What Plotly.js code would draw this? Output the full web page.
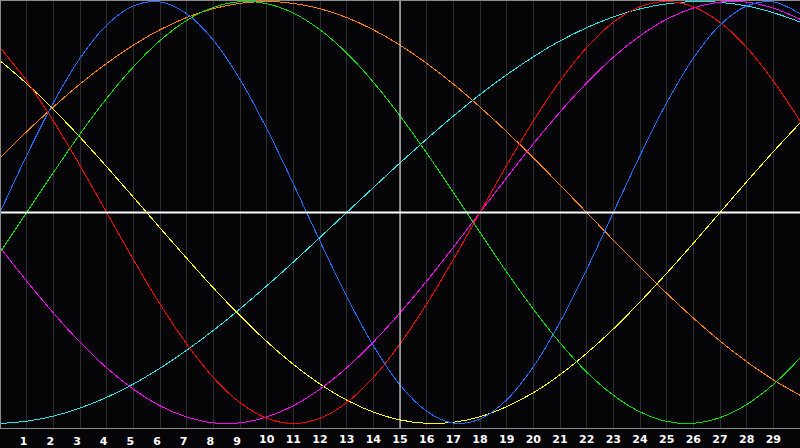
<!DOCTYPE html>
<html>
<head>
<meta charset="utf-8">
<script src="https://cdn.plot.ly/plotly-3.0.1.min.js"></script>
<style>
html,body{margin:0;padding:0;background:#050508;}
#chart{width:800px;height:448px;}
.js-line{shape-rendering:crispEdges;}
</style>
</head>
<body>
<div id="chart"></div>
<script>
// Day index along the x axis
var days = [0,1,2,3,4,5,6,7,8,9,10,11,12,13,14,15,16,17,18,19,20,21,22,23,24,25,26,27,28,29,30];
var tickDays = [1,2,3,4,5,6,7,8,9,10,11,12,13,14,15,16,17,18,19,20,21,22,23,24,25,26,27,28,29];
var tickLabels = ["1","2","3","4","5","6","7","8","9","10","11","12","13","14","15","16","17","18","19","20","21","22","23","24","25","26","27","28","29"];

// Curve values in percent
var blueVals = [0,27.0,52.0,73.1,88.8,97.9,99.8,94.2,81.7,63.1,39.8,13.6,-13.6,-39.8,-63.1,-81.7,-94.2,-99.8,-97.9,-88.8,-73.1,-52.0,-27.0,0,27.0,52.0,73.1,88.8,97.9,99.8,94.2];
var redVals = [78.2,62.3,43.4,22.3,0,-22.3,-43.4,-62.3,-78.2,-90.1,-97.5,-100,-97.5,-90.1,-78.2,-62.3,-43.4,-22.3,0,22.3,43.4,62.3,78.2,90.1,97.5,100,97.5,90.1,78.2,62.3,43.4];
var greenVals = [-18.9,0,18.9,37.2,54.1,69.0,81.5,91.0,97.2,99.9,99.0,94.5,86.6,75.6,61.8,45.8,28.2,9.5,-9.5,-28.2,-45.8,-61.8,-75.6,-86.6,-94.5,-99.0,-99.9,-97.2,-91.0,-81.5,-69.0];
var magentaVals = [-16.5,-32.5,-47.6,-61.4,-73.6,-83.7,-91.6,-96.9,-99.7,-99.7,-96.9,-91.6,-83.7,-73.6,-61.4,-47.6,-32.5,-16.5,0,16.5,32.5,47.6,61.4,73.6,83.7,91.6,96.9,99.7,99.7,96.9,91.6];
var yellowVals = [72.0,61.1,48.9,35.7,21.7,7.3,-7.3,-21.7,-35.7,-48.9,-61.1,-72.0,-81.3,-88.9,-94.6,-98.3,-99.9,-99.4,-96.8,-92.0,-85.4,-76.9,-66.7,-55.2,-42.4,-28.8,-14.6,0,14.6,28.8,42.4];
var orangeVals = [25.9,38.3,50.0,60.9,70.7,79.3,86.6,92.4,96.6,99.1,100,99.1,96.6,92.4,86.6,79.3,70.7,60.9,50.0,38.3,25.9,13.1,0,-13.1,-25.9,-38.3,-50.0,-60.9,-70.7,-79.3,-86.6];
var cyanVals = [-100,-98.9,-96.5,-92.7,-87.6,-81.3,-73.8,-65.3,-55.9,-45.7,-34.8,-23.5,-11.8,0,11.8,23.5,34.8,45.7,55.9,65.3,73.8,81.3,87.6,92.7,96.5,98.9,100,99.6,97.9,94.7,90.3];

var series = [
  {vals: cyanVals, color: '#22e6e6'},
  {vals: orangeVals, color: '#ff8000'},
  {vals: yellowVals, color: '#ffff00'},
  {vals: magentaVals, color: '#ff00ff'},
  {vals: greenVals, color: '#00e000'},
  {vals: redVals, color: '#ff0000'},
  {vals: blueVals, color: '#1a6eff'}
];

var traces = series.map(function(s){
  return {x: days, y: s.vals, type: 'scatter', mode: 'lines',
          line: {color: s.color, width: 1, shape: 'spline', smoothing: 1},
          hoverinfo: 'skip', showlegend: false};
});

var oneDigit = tickLabels.map(function(t){ return t.length === 1 ? t : ''; });
var twoDigitVals = tickDays.filter(function(d, i){ return tickLabels[i].length > 1; });
var twoDigitText = tickLabels.filter(function(t){ return t.length > 1; });

var tickFont = {family: 'DejaVu Sans', size: 11, color: '#ffffff', weight: 'bold'};

var layout = {
  width: 800, height: 448,
  margin: {l: 1, r: 0, t: 1, b: 20, pad: 0},
  paper_bgcolor: '#050508',
  plot_bgcolor: '#050508',
  showlegend: false,
  xaxis: {
    range: [0.0375, 30], fixedrange: true,
    tickmode: 'array', tickvals: tickDays, ticktext: oneDigit,
    ticks: '', showgrid: true, gridcolor: '#2e2e2e', gridwidth: 1,
    zeroline: false, showline: true, mirror: true, linecolor: '#8c8c8c', linewidth: 1,
    tickfont: tickFont, ticklabelshift: -3, ticklabelstandoff: 3
  },
  xaxis2: {
    overlaying: 'x', side: 'bottom', matches: 'x', range: [0.0375, 30],
    tickmode: 'array', tickvals: twoDigitVals, ticktext: twoDigitText,
    ticks: '', showgrid: false, zeroline: false, showline: false,
    tickfont: tickFont, ticklabelstandoff: 3
  },
  yaxis: {
    range: [-102.13, 100.24], fixedrange: true,
    showticklabels: false, ticks: '', showgrid: false, zeroline: false,
    showline: true, linecolor: '#8c8c8c', linewidth: 1
  },
  shapes: [
    {type: 'line', xref: 'paper', yref: 'y', x0: 0, x1: 1, y0: 0, y1: 0,
     line: {color: '#ffffff', width: 2}, layer: 'above'},
    {type: 'line', xref: 'x', yref: 'paper', x0: 15, x1: 15, y0: 0, y1: 1,
     line: {color: '#ffffff', width: 1}, layer: 'above'}
  ]
};

// invisible trace so the second axis is drawn
traces.push({x: [0], y: [0], xaxis: 'x2', type: 'scatter', mode: 'markers',
             marker: {opacity: 0}, hoverinfo: 'skip', showlegend: false});

Plotly.newPlot('chart', traces, layout, {staticPlot: true, displayModeBar: false});
</script>
</body>
</html>
